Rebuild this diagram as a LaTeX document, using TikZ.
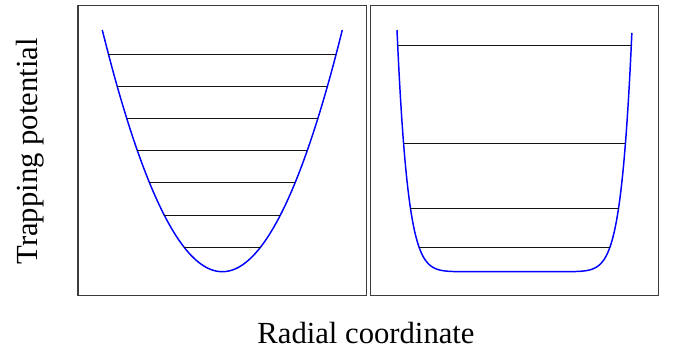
\documentclass[tikz,border=0pt]{standalone}
\usepackage{fontspec}
\setmainfont{Liberation Serif}
\definecolor{cPot}  {RGB}{0,   0,   255}
\definecolor{cLevel}{RGB}{20,  20,  20}
\definecolor{cFrame}{RGB}{60,  60,  60}
\tikzset{
  frame/.style = {draw=cFrame, line width=0.9pt},
  pot/.style   = {draw=cPot, line width=1.1pt},
  level/.style = {draw=cLevel, line width=0.7pt},
  lab/.style   = {font=\fontsize{23}{26}\selectfont, inner sep=0pt},
}

\begin{document}
\begin{tikzpicture}[x=0.75pt, y=-0.75pt]
\useasboundingbox (0,0) rectangle (675,349);

%% ─── Frames ──────────────────────────────────────────────────────
\draw[frame] (78,5.7)    rectangle (366.3,295.7);
\draw[frame] (370.7,5.7) rectangle (658.7,295.7);

%% ════════════════════════════════════════════
%%  LEFT: harmonic trap
%% ════════════════════════════════════════════
\draw[pot] plot[domain=-120:120, samples=121, smooth]
  ({222.3+\x},{271.7-0.01678*\x*\x});

\foreach \yl in {54,86.7,118,150.3,182.7,215.3,247}{
  \pgfmathsetmacro{\dx}{sqrt((271.7-\yl)/0.01678)}
  \draw[level] ({222.3-\dx},\yl) -- ({222.3+\dx},\yl);
}

%% ════════════════════════════════════════════
%%  RIGHT: flat-bottom trap
%% ════════════════════════════════════════════
\draw[pot] plot[domain=-1:1, samples=201, smooth]
  ({514.5+117.5*\x},{271.7-241.7*pow(abs(\x),11)});

\foreach \yl in {45,143,208.3,247}{
  \pgfmathsetmacro{\dx}{117.5*pow((271.7-\yl)/241.7,1/11)}
  \draw[level] ({514.5-\dx},\yl) -- ({514.5+\dx},\yl);
}

%% ─── Axis labels ─────────────────────────────────────────────────
\node[lab, rotate=90] (ylab) at (30,151.5) {Trapping potential};
\node[lab] (xlab) at (366,333) {Radial coordinate};

\end{tikzpicture}
\end{document}
